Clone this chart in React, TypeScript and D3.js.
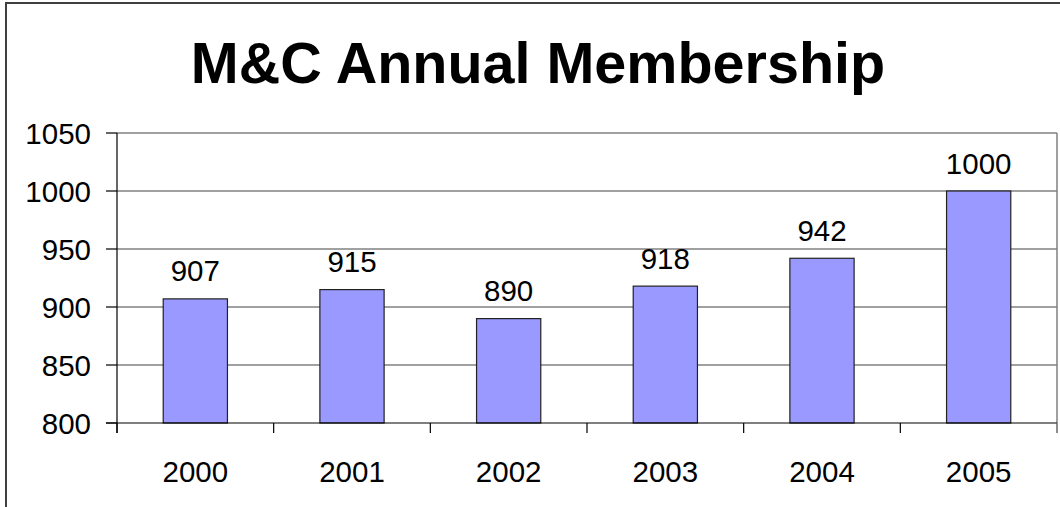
import React from "react";
import * as d3 from "d3";

const years = ["2000", "2001", "2002", "2003", "2004", "2005"];
const members = [907, 915, 890, 918, 942, 1000];
const yTicks = [800, 850, 900, 950, 1000, 1050];
const title = "M&C Annual Membership";

export default function App() {
  const W = 1060, H = 507;
  const left = 117, right = 1057, top = 133, bottom = 423;
  const font = "Arial, 'Liberation Sans', sans-serif";
  const fs = 29.5;

  const x = d3.scaleBand<string>().domain(years).range([left, right]).paddingInner(0.59).paddingOuter(0.295);
  const y = d3.scaleLinear().domain([800, 1050]).range([bottom, top]);
  const step = x.step();
  const boundaries = d3.range(years.length + 1).map((i) => left + i * step);

  return (
    <svg width={W} height={H} style={{ position: "absolute", left: 0, top: 0, display: "block", background: "#fff" }}>
      <rect x={6} y={3} width={W + 20} height={H + 20} fill="#fff" stroke="#404040" strokeWidth={2} />
      <text x={538} y={83} textAnchor="middle" fontFamily={font} fontWeight="bold" fontSize={57.5} fill="#000">
        {title}
      </text>
      {yTicks.filter((t) => t > 800).map((t) => (
        <line key={t} x1={left} x2={right} y1={y(t)} y2={y(t)} stroke="#808080" strokeWidth={1.3} />
      ))}
      <line x1={right} x2={right} y1={top} y2={bottom + 10} stroke="#808080" strokeWidth={1.5} />
      {members.map((v, i) => (
        <g key={years[i]}>
          <rect x={x(years[i])} y={y(v)} width={x.bandwidth()} height={bottom - y(v)} fill="#9999FF" stroke="#222" strokeWidth={1.2} />
          <text x={(x(years[i]) as number) + x.bandwidth() / 2} y={y(v) - 17.5} textAnchor="middle" fontFamily={font} fontSize={fs} fill="#000">
            {v}
          </text>
        </g>
      ))}
      <line x1={left} x2={left} y1={top} y2={bottom + 10} stroke="#000" strokeWidth={1.2} />
      {yTicks.map((t) => (
        <g key={t}>
          <line x1={left - 11} x2={left} y1={y(t)} y2={y(t)} stroke="#000" strokeWidth={1.2} />
          <text x={91} y={y(t) + 10.5} textAnchor="end" fontFamily={font} fontSize={fs} fill="#000">
            {t}
          </text>
        </g>
      ))}
      <line x1={left - 11} x2={right} y1={bottom} y2={bottom} stroke="#000" strokeWidth={1.2} />
      {boundaries.map((b, i) => (
        <line key={i} x1={b} x2={b} y1={bottom} y2={bottom + 10} stroke={i === years.length ? "#808080" : "#000"} strokeWidth={1.2} />
      ))}
      {years.map((yr) => (
        <text key={yr} x={(x(yr) as number) + x.bandwidth() / 2} y={482} textAnchor="middle" fontFamily={font} fontSize={fs} fill="#000">
          {yr}
        </text>
      ))}
    </svg>
  );
}
